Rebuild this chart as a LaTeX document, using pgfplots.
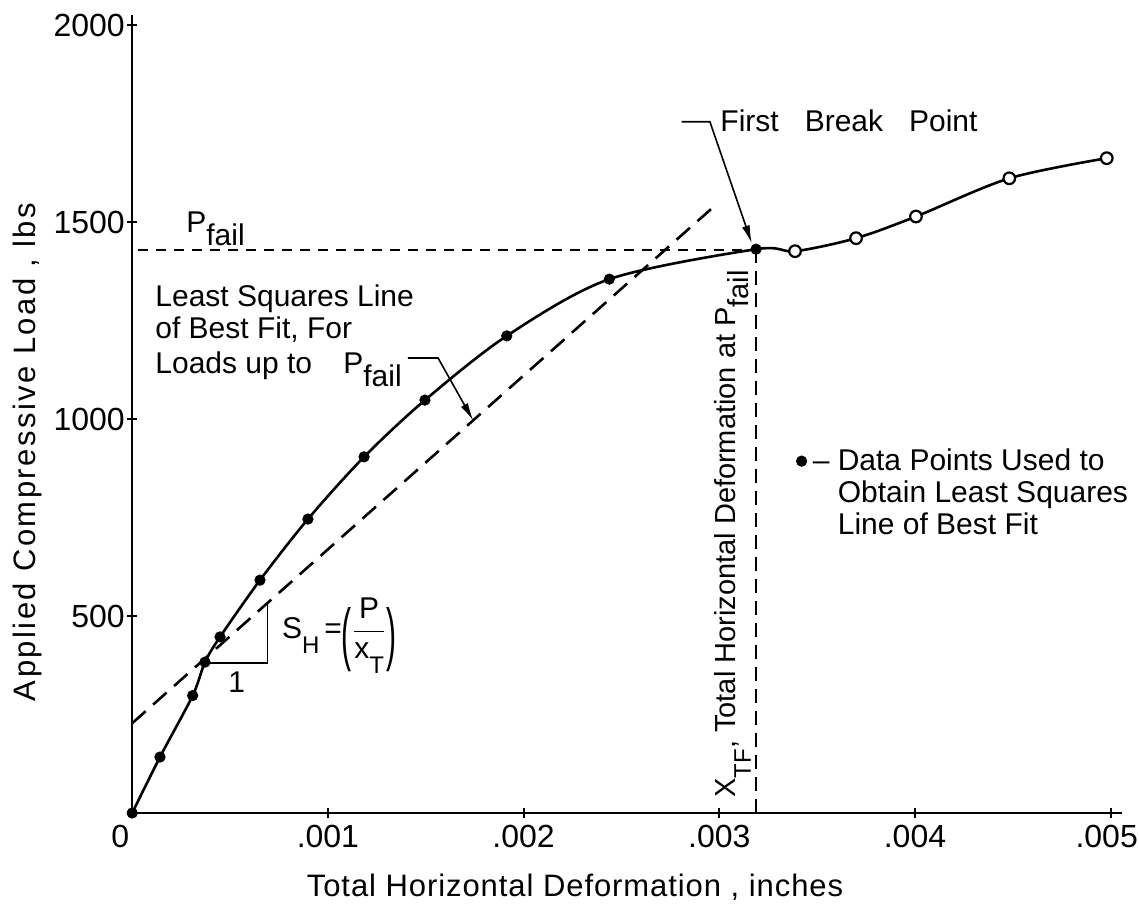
\documentclass[border=0pt]{standalone}
\usepackage{pgfplots}
\pgfplotsset{compat=1.18}
\usepackage{graphicx}
\usepackage{fontspec}
\setmainfont{Liberation Sans}
\usetikzlibrary{arrows.meta}
\newcommand\F{\fontsize{15}{16}\selectfont}
\newcommand\sub[1]{\raisebox{-6.5pt}{#1}}
\newcommand\ssub[1]{\raisebox{-7.5pt}{\fontsize{12}{12}\selectfont #1}}
\newcommand\bigparen[1]{\raisebox{-9.5pt}{\scalebox{1}[2.3]{#1}}}
\begin{document}
\begin{tikzpicture}[font=\F]
\begin{axis}[
  at={(0,0)}, anchor=south west,
  scale only axis, width=495.1pt, height=398.9pt,
  xmin=0, xmax=0.00506, ymin=0, ymax=2025,
  axis x line=bottom, axis y line=left,
  axis line style={-, line width=1.2pt},
  tick align=center, major tick length=5pt,
  tick style={line width=1pt, black},
  xtick={0,0.001,0.002,0.003,0.004,0.005},
  xticklabels={\makebox[0pt]{\hspace*{-12pt}0},.001,.002,.003,.004,\makebox[0pt]{\hspace*{-4pt}.005}},
  ytick={500,1000,1500,2000},
  yticklabels={500,1000,1500,2000},
  scaled x ticks=false, scaled y ticks=false,
  tick label style={font=\fontsize{16}{17}\selectfont},
  yticklabel style={inner xsep=1pt},
  xlabel={Total Horizontal Deformation , inches},
  ylabel={Applied Compressive Load , lbs},
  xlabel style={font={\fontsize{15.5}{16}\selectfont\addfontfeatures{LetterSpace=3}}, at={(axis description cs:0.4472,0)}, anchor=base, yshift=-41.5pt},
  ylabel style={font={\fontsize{15.5}{16}\selectfont\addfontfeatures{LetterSpace=8}}, at={(axis description cs:-0.1062,0.4524)}, anchor=center},
  clip=false,
  legend style={draw=none, fill=none, font=\F, at={(axis description cs:0.6643,0.4675)}, anchor=north west},
  legend cell align=left,
]
% least squares line
\addplot[forget plot, line width=1.3pt, dash pattern=on 9pt off 5pt] coordinates {(0,228) (0.00299,1547)};
% P_fail horizontal and X_TF vertical
\addplot[forget plot, line width=0.9pt, dash pattern=on 5pt off 4pt] coordinates {(0.00003,1430) (0.003188,1430)};
\addplot[forget plot, line width=0.9pt, dash pattern=on 7pt off 4pt] coordinates {(0.003188,0) (0.003188,1430)};
% curve
\addplot[forget plot, smooth, line width=1.3pt] coordinates {
(0,0) (0.000142,142) (0.000309,298) (0.000372,383) (0.000449,447) (0.000653,591)
(0.000898,746) (0.001185,904) (0.001496,1048) (0.001914,1211) (0.002438,1355)
(0.003188,1431) (0.003387,1426) (0.003699,1459) (0.004005,1514) (0.004482,1611) (0.004980,1662)};
% filled data points
\addplot[forget plot, only marks, mark=*, mark size=2.6pt] coordinates {
(0,0) (0.000142,142) (0.000309,298) (0.000372,383) (0.000449,447) (0.000653,591)
(0.000898,746) (0.001185,904) (0.001496,1048) (0.001914,1211) (0.002438,1355)
(0.003188,1431)};
% open points
\addplot[forget plot, only marks, mark=*, mark size=2.9pt, mark options={fill=white, draw=black, line width=1.1pt}] coordinates {
(0.003387,1426) (0.003699,1459) (0.004005,1514) (0.004482,1611) (0.004980,1662)};
% slope triangle
\addplot[forget plot, line width=0.8pt] coordinates {(0.000372,380) (0.000692,380) (0.000692,530)};
\addlegendimage{only marks, mark=*, mark size=2.6pt}
\addlegendentry{\hspace{1pt}\textendash\ \begin{tabular}[t]{@{}l@{}}Data Points Used to\\Obtain Least Squares\\Line of Best Fit\end{tabular}}
% annotations
\node[anchor=base west, inner sep=0pt] at (axis cs:0.0002749,1474.6) {P\sub{fail}};
\node[anchor=base west, inner sep=0pt] at (axis cs:0.0001165,1285.0) {Least Squares Line};
\node[anchor=base west, inner sep=0pt] at (axis cs:0.0001165,1205.6) {of Best Fit, For};
\node[anchor=base west, inner sep=0pt] at (axis cs:0.0001165,1116.8) {Loads up to};
\node[anchor=base west, inner sep=0pt] at (axis cs:0.001077,1116.8) {P\sub{fail}};
\draw[line width=0.8pt, -{Latex[length=9pt,width=4pt]}] (axis cs:0.001409,1154.8) -- (axis cs:0.001563,1154.8) -- (axis cs:0.001743,995.7);
\node[anchor=base west, inner sep=0pt] at (axis cs:0.003004,1729.2) {First\hspace{13pt}Break\hspace{13pt}Point};
\draw[line width=0.8pt, -{Latex[length=9pt,width=4pt]}] (axis cs:0.002808,1754.6) -- (axis cs:0.002952,1754.6) -- (axis cs:0.003166,1446);
\node[inner sep=0pt] at (axis cs:0.000534,332.5) {1};
\node[anchor=base west, inner sep=0pt] at (axis cs:0.000764,443.4) {S\ssub{H}\,=\bigparen{(}$\displaystyle\frac{\hbox{P}}{\hbox{x\ssub{T}}}$\bigparen{)}};
\node[rotate=90, anchor=base west, inner sep=0pt, font=\fontsize{14.5}{15}\selectfont] at (axis cs:0.003085,38.1) {X\ssub{TF}, Total Horizontal Deformation at P\sub{fail}};
\end{axis}
\pgfresetboundingbox
\path (-66.1pt,-48pt) rectangle (503.4pt,406.5pt);
\end{tikzpicture}
\end{document}
